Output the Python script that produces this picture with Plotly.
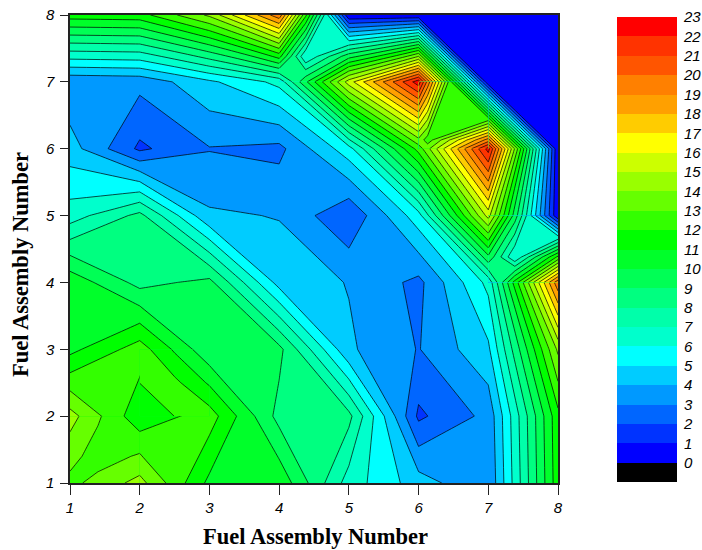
import plotly.graph_objects as go

# grid nodes
assembly = [1, 2, 3, 4, 5, 6, 7, 8]
# rows: y = 1..8
row1 = [12.7, 14.35, 10.75, 10.75, 6.55, 4.45, 3.1, 11.6]
row2 = [14.4, 11.3, 12.5, 8.65, 8.3, 1.8, 3.3, 11.7]
row3 = [10.7, 12.5, 9.2, 9.3, 4.15, 2.95, 4.8, 14.2]
row4 = [10.7, 8.65, 9.3, 4.6, 3.95, 2.72, 6.3, 19.7]
row5 = [6.5, 8.3, 4.15, 3.95, 2.1, 5.6, 15.4, 0.05]
row6 = [4.45, 1.8, 2.95, 2.72, 5.6, 12.4, 22.4, 0.05]
row7 = [3.17, 3.3, 4.8, 6.3, 15.5, 22.6, 0.05, 0.05]
row8 = [11.5, 11.6, 14.2, 19.7, 0.05, 0.05, 0.05, 0.05]
z_values = [row1, row2, row3, row4, row5, row6, row7, row8]

# cells whose inner value reads differently from the mean of their corners
cell_a = dict(x=[2, 2.5, 3], y=[2, 2.5, 3], low=10, high=12,
              z=[[11.3, 12.01, 12.5], [12.01, 12.25, 10.85], [12.5, 10.85, 9.2]])
cell_b = dict(x=[7, 7.38, 8], y=[4, 4.38, 5], low=1, high=19,
              z=[[6.3, 11.4, 19.7], [9.76, 6.05, 12.23], [15.4, 9.57, 0.05]])
cell_c = dict(x=[4, 4.38, 5], y=[7, 7.38, 8], low=1, high=19,
              z=[[6.3, 9.8, 15.5], [11.39, 6.05, 9.63], [19.7, 12.23, 0.05]])
cell_d = dict(x=[6, 6.13, 7], y=[6, 6.13, 7], low=1, high=22,
              z=[[12.4, 13.7, 22.4], [13.73, 12.45, 19.49], [22.6, 19.67, 0.05]])
cell_e = dict(x=[1, 1.4, 2], y=[1, 1.4, 2], low=12, high=14,
              z=[[12.7, 13.36, 14.35], [13.38, 12.5, 13.13], [14.4, 13.16, 11.3]])
cells = [cell_a, cell_b, cell_c, cell_d, cell_e]

# legend: one colour per labelled level, -1..0 is black, 22..23 red
legend_levels = list(range(0, 24))
band_colors = [
    "#000000", "#0000ff", "#0033ff", "#0066ff", "#0099ff", "#00ccff", "#00ffff",
    "#00ffcc", "#00ffaa", "#00ff80", "#00ff55", "#00ff2a", "#00ff00", "#33ff00",
    "#66ff00", "#99ff00", "#ccff00", "#ffff00", "#ffcc00", "#ffa000", "#ff8000",
    "#ff5500", "#ff3300", "#ff0000",
]
n = len(band_colors)


def fill_scale(low, high):
    # contour fills look up level+0.5 on a domain starting half a step below contours.start
    count = high - low + 1
    stops = []
    for level in range(low - 1, high + 1):
        c = band_colors[level + 1]
        stops.append([max((level - low + 0.5) / count, 0), c])
        stops.append([min((level - low + 1.5) / count, 1), c])
    return stops


bar_scale = []
for j, c in enumerate(band_colors):
    bar_scale.append([j / n, c])
    bar_scale.append([(j + 1) / n, c])

line_style = dict(color="#000000", width=0.7, smoothing=0)
serif = "Liberation Serif"
sans = "Liberation Sans"
label_font = dict(family=sans, size=15, color="#000000", style="italic")
title_font = dict(family=serif, size=22.5, color="#000000")

fig = go.Figure()
fig.add_trace(go.Contour(
    x=assembly, y=assembly, z=z_values, colorscale=fill_scale(1, 22),
    contours=dict(start=1, end=22, size=1, coloring="fill", showlines=True),
    line=line_style, hoverinfo="skip", showscale=False,
))
for cell in cells:
    fig.add_trace(go.Contour(
        x=cell["x"], y=cell["y"], z=cell["z"], colorscale=fill_scale(cell["low"], cell["high"]),
        contours=dict(start=cell["low"], end=cell["high"], size=1, coloring="fill", showlines=True),
        line=line_style, showscale=False, hoverinfo="skip",
    ))
fig.add_trace(go.Heatmap(
    x=[0], y=[v - 0.5 for v in legend_levels], z=[[v + 0.5] for v in legend_levels],
    zmin=0, zmax=n, colorscale=bar_scale, showscale=False, hoverinfo="skip",
    xaxis="x2", yaxis="y2",
))

area_w = 702 - 70 - 25
axis = dict(
    range=[1, 8], tickmode="array", tickvals=assembly, ticks="outside",
    tickwidth=1.2, tickcolor="#222222", showline=True, linecolor="#222222", linewidth=1.5,
    mirror=True, showgrid=False, zeroline=False, tickfont=label_font, automargin=False,
)
title_text = "<b>Fuel Assembly Number</b>"
fig.update_layout(
    width=702, height=550, margin=dict(l=70, r=25, t=15, b=67),
    paper_bgcolor="white", plot_bgcolor="white", showlegend=False,
    xaxis=dict(axis, domain=[0, 488 / area_w], ticklen=10, ticklabelstandoff=0),
    yaxis=dict(axis, ticklen=8, ticklabelstandoff=3),
    xaxis2=dict(domain=[547 / area_w, 1], range=[-0.5, 0.5], visible=False, anchor="y2"),
    yaxis2=dict(domain=[1 / 468, 466 / 468], range=[-1, 23], anchor="x2", side="right",
                tickmode="array", tickvals=legend_levels, ticks="", showline=False,
                showgrid=False, zeroline=False, tickfont=label_font, ticklabelstandoff=6,
                automargin=False),
    annotations=[
        dict(text=title_text, xref="paper", yref="paper", x=245 / area_w, y=-53 / 468,
             xanchor="center", yanchor="middle", showarrow=False, font=title_font),
        dict(text=title_text, xref="paper", yref="paper", x=-50 / area_w, y=218 / 468,
             xanchor="center", yanchor="middle", showarrow=False, font=title_font, textangle=-90),
    ],
)
fig.write_html("out.html", config=dict(displayModeBar=False),
               post_script="document.body.style.margin='0';")
